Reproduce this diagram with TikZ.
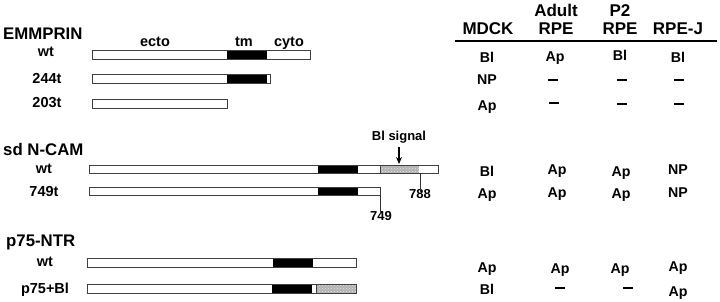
\documentclass[tikz,border=0pt]{standalone}
\usepackage{fontspec}
\setmainfont{Liberation Sans}
\usetikzlibrary{patterns,arrows.meta}
\begin{document}
\begin{tikzpicture}[x=1pt,y=-1pt,
  outl/.style={draw=black!75,line width=0.7pt},
  wseg/.style={outl,fill=white},
  bseg/.style={fill=black},
  sfill/.style={fill=gray!60},
  spat/.style={pattern=crosshatch dots,pattern color=gray!20},
  head/.style={font=\bfseries\fontsize{16.8}{18}\selectfont,inner sep=0pt,anchor=base},
  thead/.style={font=\bfseries\fontsize{17}{18}\selectfont,inner sep=0pt,anchor=base},
  lbl/.style={font=\bfseries\fontsize{14.5}{15}\selectfont,inner sep=0pt,anchor=base},
  slbl/.style={font=\bfseries\fontsize{13}{14}\selectfont,inner sep=0pt,anchor=base},
  dom/.style={font=\bfseries\fontsize{14.5}{15}\selectfont,inner sep=0pt,anchor=base},
  cell/.style={font=\bfseries\fontsize{14.2}{15}\selectfont,inner sep=0pt,anchor=base},
  nodash/.style={inner sep=0pt,anchor=center},
  tick/.style={draw=black!80,line width=0.7pt}]
\useasboundingbox (0,0) rectangle (720,302);

% ---------- EMMPRIN ----------
\node[head,anchor=base west] (emm) at (3,40) {EMMPRIN};
\node[lbl] (emmwt) at (46,57) {wt};
\node[lbl] (emm244) at (47,84) {244t};
\node[lbl] (emm203) at (47,108) {203t};
\node[dom] (ecto) at (155,47) {ecto};
\node[dom] (tm) at (244,47) {tm};
\node[dom] (cyto) at (289,47) {cyto};
% wt bar
\fill[white] (92,50) rectangle (310,59);
\fill[bseg] (227,50) rectangle (267,59);
\draw[outl] (92,50) rectangle (310,59);
% 244t bar
\fill[white] (92,74) rectangle (270,83);
\fill[bseg] (227,74) rectangle (267,83);
\draw[outl] (92,74) rectangle (270,83);
% 203t bar
\draw[wseg] (92,99) rectangle (227,108);

% ---------- sd N-CAM ----------
\node[head,anchor=base west] (ncam) at (3,156) {sd N-CAM};
\node[lbl] (ncamwt) at (44,173) {wt};
\node[lbl] (ncam749t) at (44,196) {749t};
% wt bar
\fill[white] (89,165) rectangle (438,173);
\fill[bseg] (318,165) rectangle (358,173);
\path[sfill] (380,165) rectangle (419,173);
\path[spat] (380,165) rectangle (419,173);
\draw[outl] (380,165) -- (380,173);
\draw[outl] (89,165) rectangle (438,173);
% 749t bar
\fill[white] (89,187) rectangle (380,195);
\fill[bseg] (318,187) rectangle (358,195);
\draw[outl] (89,187) rectangle (380,195);
% signal and ticks
\node[slbl] (blsig) at (399,141) {Bl signal};
\coordinate (sigtip) at (399,164);
\draw[-{Stealth[length=7pt,width=6pt]},line width=1.1pt] ([yshift=-3pt]blsig.south) -- (sigtip);
\node[slbl] (n788) at (420,198) {788};
\coordinate (t788) at (420,173);
\draw[tick] (t788) -- ([yshift=-3pt]n788.north);
\node[slbl] (n749) at (381,220) {749};
\coordinate (t749) at (380,195);
\draw[tick] (t749) -- ([xshift=-1pt,yshift=-3pt]n749.north);

% ---------- p75-NTR ----------
\node[head,anchor=base west] (p75) at (6,246) {p75-NTR};
\node[lbl] (p75wt) at (45,266) {wt};
\node[lbl] (p75bl) at (45,293) {p75+Bl};
% wt bar
\fill[white] (87,258) rectangle (356,267);
\fill[bseg] (273,258) rectangle (313,267);
\draw[outl] (87,258) rectangle (356,267);
% p75+Bl bar
\fill[white] (87,284) rectangle (356,293);
\fill[bseg] (272,284) rectangle (312,293);
\path[sfill] (316,284) rectangle (356,293);
\path[spat] (316,284) rectangle (356,293);
\draw[outl] (316,284) -- (316,293);
\draw[outl] (87,284) rectangle (356,293);

% ---------- table ----------
\node[thead] (hmdck) at (488,35) {MDCK};
\node[thead] (hadult) at (556,17) {Adult};
\node[thead] (hadrpe) at (556,35) {RPE};
\node[thead] (hp2) at (620,17) {P2};
\node[thead] (hp2rpe) at (620,35) {RPE};
\node[thead] (hrpej) at (678,35) {RPE-J};
\draw[line width=1.8pt] (455,41) -- (717,41);

\newcommand{\mydash}{\rule{10pt}{2.2pt}}
% EMMPRIN rows
\node[cell] (c11) at (487,63) {Bl};
\node[cell] (c12) at (555,62) {Ap};
\node[cell] (c13) at (620,61) {Bl};
\node[cell] (c14) at (678,63) {Bl};
\node[cell] (c21) at (487,85) {NP};
\node[nodash] (c22) at (553,80) {\mydash};
\node[nodash] (c23) at (622,80) {\mydash};
\node[nodash] (c24) at (679,80) {\mydash};
\node[cell] (c31) at (487,111) {Ap};
\node[nodash] (c32) at (554,103) {\mydash};
\node[nodash] (c33) at (622,104) {\mydash};
\node[nodash] (c34) at (679,104) {\mydash};
% N-CAM rows
\node[cell] (c41) at (487,176) {Bl};
\node[cell] (c42) at (557,175) {Ap};
\node[cell] (c43) at (621,176) {Ap};
\node[cell] (c44) at (678,175) {NP};
\node[cell] (c51) at (487,198) {Ap};
\node[cell] (c52) at (557,197) {Ap};
\node[cell] (c53) at (621,198) {Ap};
\node[cell] (c54) at (678,197) {NP};
% p75 rows
\node[cell] (c61) at (487,272) {Ap};
\node[cell] (c62) at (560,273) {Ap};
\node[cell] (c63) at (620,273) {Ap};
\node[cell] (c64) at (678,271) {Ap};
\node[cell] (c71) at (487,294) {Bl};
\node[nodash] (c72) at (560,288) {\mydash};
\node[nodash] (c73) at (628,288) {\mydash};
\node[cell] (c74) at (678,296) {Ap};
\end{tikzpicture}
\end{document}
